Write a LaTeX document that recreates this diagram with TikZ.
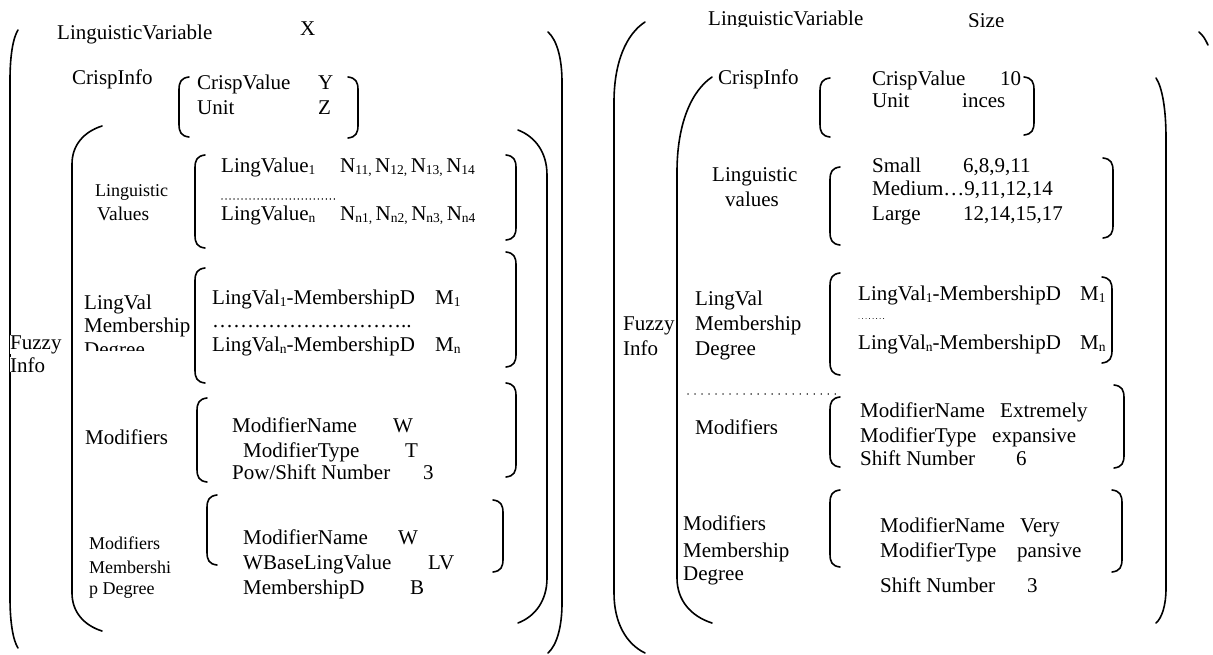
\documentclass[tikz,border=0pt]{standalone}
\usepackage{fontspec}
\setmainfont{Liberation Serif}
\newcommand\lsub[1]{\raisebox{-2pt}{\fontsize{13.5}{13.5}\selectfont #1}}
% rounded square brackets: x, top, bottom
\newcommand\Lbrk[3]{\draw[brk] ({#1+10},#2) .. controls ({#1+2},{#2+1}) and (#1,{#2+5}) .. (#1,{#2+13}) -- (#1,{#3-13}) .. controls (#1,{#3-5}) and ({#1+2},{#3-1}) .. ({#1+10},#3);}
\newcommand\Rbrk[3]{\draw[brk] ({#1-10},#2) .. controls ({#1-2},{#2+1}) and (#1,{#2+5}) .. (#1,{#2+13}) -- (#1,{#3-13}) .. controls (#1,{#3-5}) and ({#1-2},{#3-1}) .. ({#1-10},#3);}
% large parentheses: end x, line x, top, bottom, top curve height, bottom curve height
\newcommand\Bpar[6]{\draw[brk] (#1,#3) .. controls ({#2+0.4*(#1-#2)},{#3+0.15*#5}) and (#2,{#3+0.5*#5}) .. (#2,{#3+#5}) -- (#2,{#4-#6}) .. controls (#2,{#4-0.5*#6}) and ({#2+0.4*(#1-#2)},{#4-0.15*#6}) .. (#1,#4);}
\tikzset{
  txt/.style={anchor=base west, inner sep=0pt, font=\fontsize{21}{24}\selectfont},
  stxt/.style={txt, font=\fontsize{18}{21}\selectfont},
  brk/.style={line width=1.6pt, line cap=round},
  dotrow/.style={line width=1.3pt, dash pattern=on 0.01pt off 4.5pt, line cap=round},
}
\begin{document}
\begin{tikzpicture}[x=1pt,y=-1pt]
\useasboundingbox (0,0) rectangle (1213,654);

% ---------------- left structure ----------------
\Bpar{18}{10}{30}{648}{50}{50}
\Bpar{548}{562}{32}{653}{50}{50}
\Bpar{102}{72}{126}{631}{38}{38}
\Bpar{518}{547}{130}{623}{45}{45}

\node[txt] (lvA) at (57,39) {LinguisticVariable};
\node[txt] (lvAx) at (300,35) {X};

\node[txt] (ciA) at (72,84) {CrispInfo};
\Lbrk{179}{77}{137}
\Rbrk{358}{77}{138}
\node[txt] (cvA) at (197,89) {CrispValue};
\node[txt] (cvAy) at (318,89) {Y};
\node[txt] (unA) at (197,114) {Unit};
\node[txt] (unAz) at (318,114) {Z};

\node[txt,fill=white] (fzA) at (10,349) {Fuzzy};
\node[txt,fill=white] (inA) at (10,372) {Info};

\node[stxt] (lgA1) at (95,196) {Linguistic};
\node[txt,font=\fontsize{19.5}{22}\selectfont] (lgA2) at (97,220) {Values};
\Lbrk{195}{155}{248}
\Rbrk{516}{155}{240}
\node[txt] (lv1A) at (221,172) {LingValue\lsub{1}};
\node[txt] (n1A) at (340,172) {N\lsub{11,}\,N\lsub{12,}\,N\lsub{13,}\,N\lsub{14}};
\draw[dotrow, dash pattern=on 0.01pt off 4pt] (222,199) -- (338,199);
\node[txt] (lvnA) at (221,220) {LingValue\lsub{n}};
\node[txt] (nnA) at (340,220) {N\lsub{n1,}\,N\lsub{n2,}\,N\lsub{n3,}\,N\lsub{n4}};

\node[txt] (mdA1) at (84,309) {LingVal};
\node[txt] (mdA2) at (84,332) {Membership};
\begin{scope}
  \clip (60,336) rectangle (190,350);
  \node[txt] (mdA3) at (84,356) {Degree};
\end{scope}
\Lbrk{195}{268}{383}
\Rbrk{516}{252}{367}
\node[txt] (m1A) at (212,304) {LingVal\lsub{1}-MembershipD};
\node[txt] (m1Av) at (435,304) {M\lsub{1}};
\node[txt] (mdotA) at (212,327) {………………………..};
\node[txt] (mnA) at (212,351) {LingVal\lsub{n}-MembershipD};
\node[txt] (mnAv) at (435,351) {M\lsub{n}};

\node[txt] (moA) at (85,444) {Modifiers};
\Lbrk{197}{398}{482}
\Rbrk{516}{383}{477}
\node[txt] (mo1A) at (232,432) {ModifierName};
\node[txt] (mo1Av) at (393,432) {W};
\node[txt] (mo2A) at (243,457) {ModifierType};
\node[txt] (mo2Av) at (405,457) {T};
\node[txt] (mo3A) at (232,479) {Pow/Shift Number};
\node[txt] (mo3Av) at (423,479) {3};

\node[stxt] (mmA1) at (89,549) {Modifiers};
\node[stxt] (mmA2) at (89,573) {Membershi};
\node[stxt] (mmA3) at (89,594) {p Degree};
\Lbrk{207}{495}{565}
\Rbrk{503}{500}{572}
\node[txt] (mm1A) at (243,544) {ModifierName};
\node[txt] (mm1Av) at (398,544) {W};
\node[txt] (mm2A) at (243,569) {WBaseLingValue};
\node[txt] (mm2Av) at (428,569) {LV};
\node[txt] (mm3A) at (243,594) {MembershipD};
\node[txt] (mm3Av) at (410,594) {B};

% ---------------- right structure ----------------
\Bpar{645}{614}{22}{653}{80}{60}
\draw[brk] (1199,32) .. controls (1204,37) .. (1208,45);
\Bpar{712}{677}{77}{623}{95}{45}
\Bpar{1156}{1166}{78}{623}{60}{35}

\begin{scope}
  \clip (690,0) rectangle (1100,26);
  \node[txt] (lvB) at (708,25) {LinguisticVariable};
  \node[txt] (lvBs) at (968,27) {Size};
\end{scope}

\node[txt] (ciB) at (718,84) {CrispInfo};
\Lbrk{820}{78}{137}
\Rbrk{1034}{77}{135}
\node[txt] (cvB) at (872,85) {CrispValue};
\node[txt] (cvBv) at (1000,85) {10};
\node[txt] (unB) at (872,107) {Unit};
\node[txt] (unBv) at (962,107) {inces};

\node[txt] (lgB1) at (712,181) {Linguistic};
\node[txt] (lgB2) at (725,206) {values};
\Lbrk{830}{167}{245}
\Rbrk{1113}{158}{238}
\node[txt] (smB) at (872,172) {Small};
\node[txt] (smBv) at (963,172) {6,8,9,11};
\node[txt] (meB) at (872,195) {Medium…9,11,12,14};
\node[txt] (laB) at (872,220) {Large};
\node[txt] (laBv) at (963,220) {12,14,15,17};

\node[txt,fill=white] (fzB) at (623,330) {Fuzzy};
\node[txt,fill=white] (inB) at (623,355) {Info};
\node[txt] (mdB1) at (695,305) {LingVal};
\node[txt] (mdB2) at (695,330) {Membership};
\node[txt] (mdB3) at (695,355) {Degree};
\Lbrk{830}{273}{375}
\Rbrk{1112}{277}{363}
\node[txt] (m1B) at (858,300) {LingVal\lsub{1}-MembershipD};
\node[txt] (m1Bv) at (1080,300) {M\lsub{1}};
\draw[line width=0.9pt, dash pattern=on 0.01pt off 3.5pt, line cap=round] (859,318) -- (884,318);
\node[txt] (mnB) at (858,349) {LingVal\lsub{n}-MembershipD};
\node[txt] (mnBv) at (1080,349) {M\lsub{n}};

\draw[dotrow, dash pattern=on 0.01pt off 7pt] (688,394) -- (840,394);
\begin{scope}
  \clip (680,400) rectangle (800,433);
  \node[txt] (moB) at (695,434) {Modifiers};
\end{scope}
\Lbrk{830}{397}{467}
\Rbrk{1124}{385}{468}
\node[txt] (mo1B) at (860,417) {ModifierName};
\node[txt] (mo1Bv) at (1000,417) {Extremely};
\node[txt] (mo2B) at (860,442) {ModifierType};
\node[txt] (mo2Bv) at (992,442) {expansive};
\node[txt] (mo3B) at (860,465) {Shift Number};
\node[txt] (mo3Bv) at (1016,465) {6};

\node[txt] (mmB1) at (683,530) {Modifiers};
\node[txt] (mmB2) at (683,557) {Membership};
\node[txt] (mmB3) at (683,580) {Degree};
\Lbrk{830}{490}{567}
\Rbrk{1122}{490}{572}
\node[txt] (mm1B) at (880,532) {ModifierName};
\node[txt] (mm1Bv) at (1020,532) {Very};
\node[txt] (mm2B) at (880,557) {ModifierType};
\node[txt] (mm2Bv) at (1017,557) {pansive};
\node[txt] (mm3B) at (880,592) {Shift Number};
\node[txt] (mm3Bv) at (1027,592) {3};
\end{tikzpicture}
\end{document}
